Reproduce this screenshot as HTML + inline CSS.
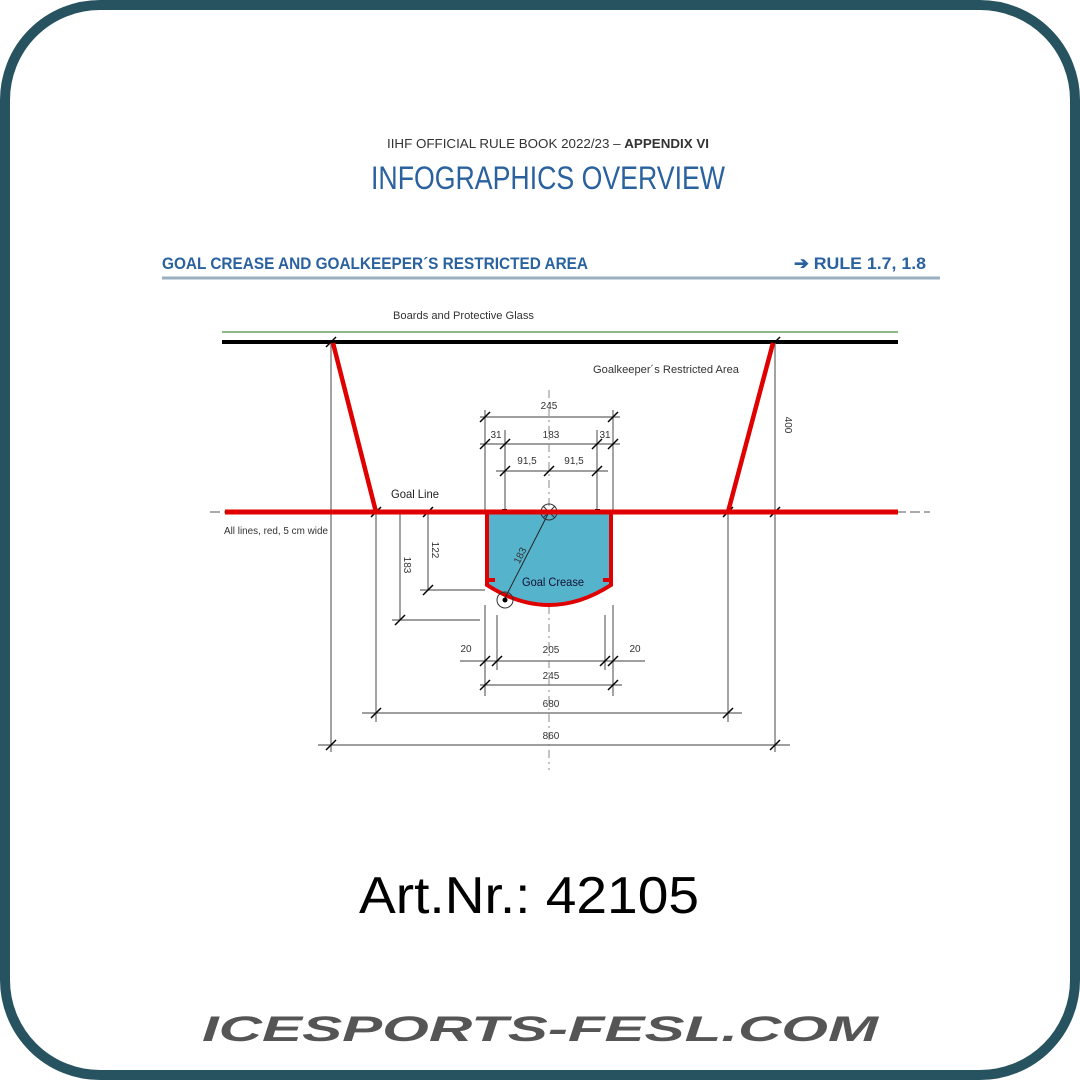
<!DOCTYPE html>
<html><head><meta charset="utf-8"><style>
html,body{margin:0;padding:0;background:#fff;}
svg{display:block;}
text{font-family:"Liberation Sans",sans-serif;}
</style></head><body>
<svg width="1080" height="1080" viewBox="0 0 1080 1080" xmlns="http://www.w3.org/2000/svg">
<rect x="5" y="5" width="1070" height="1070" rx="95" fill="#fff" stroke="#26535f" stroke-width="10"/>

<text x="548" y="148" font-size="13" text-anchor="middle" fill="#333" textLength="322" lengthAdjust="spacingAndGlyphs">IIHF OFFICIAL RULE BOOK 2022/23 – <tspan font-weight="bold">APPENDIX VI</tspan></text>
<text x="548" y="189" font-size="32" text-anchor="middle" fill="#2a62a0" textLength="354" lengthAdjust="spacingAndGlyphs">INFOGRAPHICS OVERVIEW</text>
<text x="162" y="269" font-size="17" font-weight="bold" fill="#2a62a0" textLength="426" lengthAdjust="spacingAndGlyphs">GOAL CREASE AND GOALKEEPER´S RESTRICTED AREA</text>
<text x="926" y="269" font-size="17" font-weight="bold" fill="#2a62a0" text-anchor="end" textLength="132" lengthAdjust="spacingAndGlyphs">➔ RULE 1.7, 1.8</text>
<line x1="162" y1="278" x2="940" y2="278" stroke="#9ab0c0" stroke-width="3"/>

<text x="393" y="319" font-size="11" fill="#333" textLength="141" lengthAdjust="spacingAndGlyphs">Boards and Protective Glass</text>
<line x1="222" y1="332" x2="898" y2="332" stroke="#4a8a40" stroke-width="1.2"/>
<line x1="222" y1="342" x2="898" y2="342" stroke="#000" stroke-width="4"/>
<text x="593" y="373" font-size="11" fill="#333" textLength="146" lengthAdjust="spacingAndGlyphs">Goalkeeper´s Restricted Area</text>

<g stroke="#666" stroke-width="1.2" fill="none">
<line x1="331" y1="342" x2="331" y2="752"/>
<line x1="775" y1="342" x2="775" y2="752"/>
<line x1="376" y1="512" x2="376" y2="722"/>
<line x1="728" y1="512" x2="728" y2="722"/>
<line x1="318" y1="745" x2="790" y2="745"/>
<line x1="362" y1="713" x2="742" y2="713"/>
<line x1="485" y1="410" x2="485" y2="512"/>
<line x1="613" y1="410" x2="613" y2="512"/>
<line x1="505" y1="430" x2="505" y2="512"/>
<line x1="597" y1="430" x2="597" y2="512"/>
<line x1="480" y1="417" x2="620" y2="417"/>
<line x1="480" y1="444" x2="620" y2="444"/>
<line x1="496" y1="471" x2="608" y2="471"/>
<line x1="400" y1="512" x2="400" y2="620"/>
<line x1="392" y1="620" x2="480" y2="620"/>
<line x1="428" y1="512" x2="428" y2="590"/>
<line x1="420" y1="590" x2="485" y2="590"/>
<line x1="485" y1="605" x2="485" y2="696"/>
<line x1="613" y1="605" x2="613" y2="696"/>
<line x1="497" y1="615" x2="497" y2="670"/>
<line x1="605" y1="615" x2="605" y2="670"/>
<line x1="460" y1="661" x2="645" y2="661"/>
<line x1="480" y1="685" x2="622" y2="685"/>
</g>
<g stroke="#000" stroke-width="1.5">
<path d="M480 422l10-10M608 422l10-10M480 449l10-10M500 449l10-10M592 449l10-10M608 449l10-10M500 476l10-10M544 476l10-10M592 476l10-10M395 625l10-10M423 595l10-10M423 517l10-10M480 666l10-10M492 666l10-10M600 666l10-10M608 666l10-10M480 690l10-10M608 690l10-10M371 718l10-10M723 718l10-10M326 750l10-10M770 750l10-10M371 517l10-10M723 517l10-10M770 517l10-10M770 347l10-10M326 347l10-10"/>
</g>
<line x1="549" y1="390" x2="549" y2="770" stroke="#888" stroke-width="1" stroke-dasharray="8 4 2 4"/>
<line x1="210" y1="512" x2="930" y2="512" stroke="#555" stroke-width="1" stroke-dasharray="10 4"/>

<path d="M487 512 L487 585 Q549 625 611 585 L611 512 Z" fill="#56b3cc" stroke="#e00000" stroke-width="4"/>
<path d="M489 580h6M609 580h-6" stroke="#e00000" stroke-width="4"/>
<line x1="504" y1="600" x2="549" y2="512" stroke="#222" stroke-width="1"/>
<circle cx="549" cy="512" r="8" fill="none" stroke="#333" stroke-width="1"/>
<path d="M543 506l12 12M555 506l-12 12" stroke="#333" stroke-width="1"/>
<circle cx="505" cy="600" r="8" fill="none" stroke="#333" stroke-width="1"/>
<circle cx="505" cy="600" r="2.5" fill="#000"/>
<rect x="502" y="509" width="5" height="5" fill="#000"/>
<rect x="595" y="509" width="5" height="5" fill="#000"/>

<line x1="225" y1="512" x2="898" y2="512" stroke="#e00000" stroke-width="5"/>
<line x1="333" y1="343" x2="376" y2="512" stroke="#e00000" stroke-width="4.5"/>
<line x1="773" y1="343" x2="728" y2="512" stroke="#e00000" stroke-width="4.5"/>

<g font-size="10" fill="#333">
<text x="549" y="409" text-anchor="middle">245</text>
<text x="496" y="438" text-anchor="middle">31</text>
<text x="551" y="438" text-anchor="middle">183</text>
<text x="605" y="438" text-anchor="middle">31</text>
<text x="527" y="464" text-anchor="middle">91,5</text>
<text x="574" y="464" text-anchor="middle">91,5</text>
<text x="466" y="652" text-anchor="middle">20</text>
<text x="551" y="653" text-anchor="middle">205</text>
<text x="635" y="652" text-anchor="middle">20</text>
<text x="551" y="679" text-anchor="middle">245</text>
<text x="551" y="707" text-anchor="middle">680</text>
<text x="551" y="739" text-anchor="middle">860</text>
<text transform="translate(404,565) rotate(90)" text-anchor="middle">183</text>
<text transform="translate(432,550) rotate(90)" text-anchor="middle">122</text>
<text transform="translate(785,425) rotate(90)" text-anchor="middle">400</text>
<text transform="translate(523,557) rotate(-63)" text-anchor="middle">183</text>
</g>
<text x="391" y="498" font-size="12" fill="#222" textLength="48" lengthAdjust="spacingAndGlyphs">Goal Line</text>
<text x="224" y="534" font-size="10" fill="#333" textLength="104" lengthAdjust="spacingAndGlyphs">All lines, red, 5 cm wide</text>
<text x="522" y="586" font-size="12" fill="#113" textLength="62" lengthAdjust="spacingAndGlyphs">Goal Crease</text>

<text x="359" y="913" font-size="52" fill="#000" font-family="'DejaVu Sans','Liberation Sans',sans-serif" textLength="340" lengthAdjust="spacingAndGlyphs">Art.Nr.: 42105</text>
<text x="540" y="1041" font-size="35" font-weight="bold" font-style="italic" fill="#555" text-anchor="middle" textLength="676" lengthAdjust="spacingAndGlyphs">ICESPORTS-FESL.COM</text>
</svg>
</body></html>
